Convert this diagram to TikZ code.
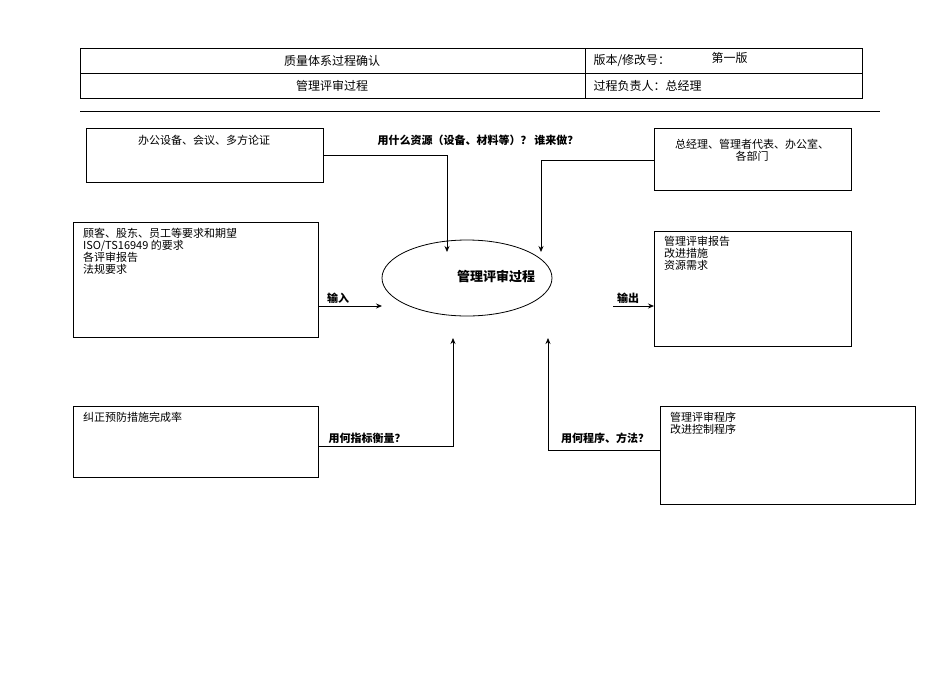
\documentclass[tikz,border=0pt]{standalone}
\usepackage{fontspec}
\setmainfont{Noto Sans CJK SC}
\newfontfamily\cjkb{Noto Sans CJK SC Bold}
\usetikzlibrary{arrows.meta,shapes.geometric}
\begin{document}
\begin{tikzpicture}[x=1pt,y=-1pt,
  bx/.style={draw,line width=0.8pt},
  arr/.style={draw,line width=0.8pt,-{Stealth[length=6pt,width=5pt]}},
  txt/.style={font=\fontsize{11}{12}\selectfont,inner sep=0pt,anchor=north west,align=left},
  lbl/.style={font=\fontsize{11}{12}\selectfont\bfseries,inner sep=1pt}]
\useasboundingbox (0,0) rectangle (950,672);
% header
\draw[line width=0.6pt] (80,48) rectangle (862,98);
\draw[line width=0.6pt] (80,73) -- (862,73) (585,48) -- (585,98);
\node[font=\fontsize{12}{13}\selectfont] (h1) at (332,61) {质量体系过程确认};
\node[font=\fontsize{12}{13}\selectfont] (h2) at (332,86) {管理评审过程};
\node[font=\fontsize{12}{13}\selectfont,anchor=west] (h3) at (590,61) {版本/修改号：};
\node[font=\fontsize{12}{13}\selectfont,anchor=west] (h4) at (708,58) {第一版};
\node[font=\fontsize{12}{13}\selectfont,anchor=west] (h5) at (590,86) {过程负责人：总经理};
\draw[line width=0.6pt] (80,111) -- (880,111);
% boxes
\draw[bx] (86,128) rectangle (323,182); \coordinate (b1r) at (323,155);
\node[font=\fontsize{11}{12}\selectfont] (t1) at (204,140) {办公设备、会议、多方论证};
\draw[bx] (654,128) rectangle (851,190); \coordinate (b2l) at (654,160);
\node[font=\fontsize{11}{12}\selectfont,align=center] (t2) at (752,150) {总经理、管理者代表、办公室、\\各部门};
\draw[bx] (73,222) rectangle (318,337); \coordinate (b3r) at (318,306);
\node[txt] (t3) at (83,228) {顾客、股东、员工等要求和期望\\ISO/TS16949 的要求\\各评审报告\\法规要求};
\draw[bx] (654,231) rectangle (851,346); \coordinate (b4l) at (654,306);
\node[txt] (t4) at (664,236) {管理评审报告\\改进措施\\资源需求};
\draw[bx] (73,406) rectangle (318,477); \coordinate (b5r) at (318,446);
\node[txt] (t5) at (83,412) {纠正预防措施完成率};
\draw[bx] (660,406) rectangle (915,504); \coordinate (b6l) at (660,450);
\node[txt] (t6) at (670,412) {管理评审程序\\改进控制程序};
% ellipse
\node[draw,ellipse,line width=0.8pt,minimum width=170pt,minimum height=76pt] (e) at (467,278) {};
\node[lbl,font=\fontsize{13}{14}\selectfont\bfseries] (et) at (496,276) {管理评审过程};
% connectors
\coordinate (e1) at (447,252); \coordinate (e2) at (541,252);
\coordinate (e3) at (453,338); \coordinate (e4) at (548,338);
\coordinate (ein) at (382,306); \coordinate (eout) at (613,306);
\draw[arr] (b1r) -| (e1);
\draw[arr] (b2l) -| (e2);
\draw[arr] (b5r) -| (e3);
\draw[arr] (b6l) -| (e4);
\draw[arr] (b3r) -- (ein);
\draw[arr] (eout) -- (b4l);
\node[lbl] (l1) at (478,140) {用什么资源（设备、材料等）？ 谁来做？};
\node[lbl] (l2) at (338,298) {输入};
\node[lbl] (l3) at (628,298) {输出};
\node[lbl] (l4) at (367,438) {用何指标衡量？};
\node[lbl] (l5) at (605,438) {用何程序、方法？};
\end{tikzpicture}
\end{document}
